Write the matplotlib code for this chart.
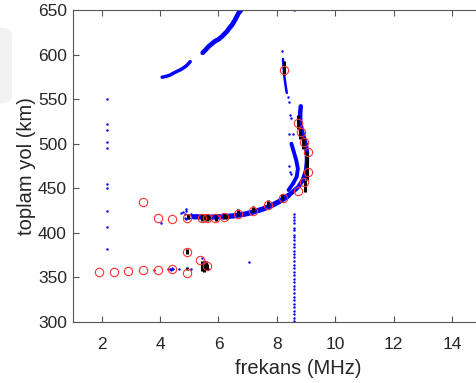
import numpy as np
import matplotlib.pyplot as plt
from matplotlib.patches import FancyBboxPatch

plt.rcParams['font.family'] = ['Liberation Sans', 'DejaVu Sans']

# raw echo traces (dense parts, drawn as thick blue strokes)
upper1_f = [4.07, 4.2, 4.34, 4.45, 4.57, 4.7, 4.8, 4.92, 5.03]
upper1_h = [574.6, 575.5, 577, 579, 581, 583, 585, 588, 592]
upper2_f = [5.46, 5.55, 5.66, 5.77, 5.88, 6.0, 6.11, 6.2, 6.29, 6.38, 6.46, 6.57, 6.68, 6.77, 6.85]
upper2_h = [602, 605, 609, 612, 615, 617, 620, 623, 626, 630, 633, 639, 646, 650, 652]
band_f = [5.15, 5.3, 5.5, 5.7, 5.9, 6.1, 6.3, 6.5, 6.7, 6.9, 7.1, 7.3, 7.5, 7.7, 7.9, 8.1, 8.25, 8.4]
band_h = [418, 418, 417.5, 417.5, 418, 418, 418.5, 419, 420, 421, 422.5, 424.5, 426.5, 429, 432, 435.5, 438.5, 442]
outer_f = [8.35, 8.55, 8.75, 8.9, 9.0, 9.03, 9.03, 9.0, 8.93, 8.85, 8.8, 8.8, 8.82]
outer_h = [441, 446, 452, 460, 470, 480, 490, 498, 506, 515, 525, 535, 542]
inner_f = [8.4, 8.55, 8.68, 8.72, 8.66, 8.57, 8.5]
inner_h = [448, 455, 463, 472, 482, 492, 500]
top_f = [8.34, 8.31, 8.28, 8.25, 8.23, 8.21]
top_h = [557, 563, 570, 577, 586, 595]

# isolated echoes
dots_f = [2.17, 2.17, 2.17, 2.17, 2.17, 2.17, 2.17, 2.17, 2.17, 2.17,
          4.02, 3.79, 4.28, 4.33, 4.38, 4.42, 4.45, 4.65, 5.05,
          4.7, 4.78, 4.85, 4.9, 4.95, 5.0, 5.05, 5.1, 4.85, 4.9, 4.88,
          5.45, 5.5, 5.55, 5.6, 5.65, 5.52,
          7.05, 8.6, 8.19, 8.38, 8.42, 8.46, 8.47, 8.43, 8.55, 8.43, 8.45, 8.5]
dots_h = [550, 522, 515, 502, 495, 455, 450, 425, 407, 382,
          411, 358, 359, 360, 358, 361, 359, 360, 359,
          422, 423, 421, 424, 419, 417, 421, 419, 417, 415, 427,
          372, 368, 366, 362, 360, 363,
          367, 650, 604.5, 552, 547, 532, 529, 510.6, 510.6, 475, 468, 466]

# vertical echo column near 8.58 MHz
col_f = 8.58
col_h = [421, 418, 414, 411, 406, 403, 398, 395, 392, 387, 384, 380, 376, 373,
         368, 364, 361, 356, 353, 348, 345, 340, 337, 333, 328, 325, 320, 317,
         312, 309, 304, 301]

# selected points (red circles)
sel_f = [1.91, 2.42, 2.91, 3.41, 3.92, 4.42, 4.92, 4.92, 5.37, 5.62, 3.41,
         3.94, 4.40, 4.92, 5.43, 5.62, 5.88, 6.2, 6.68, 7.2, 7.71, 8.2,
         8.74, 8.94, 9.05, 9.05, 8.94, 8.82, 8.71, 8.23]
sel_h = [356.5, 356.5, 357, 358, 358, 359, 355.3, 378, 369.6, 362.8, 434.3,
         417, 416, 417, 417, 417, 416.5, 417.5, 421, 425, 431, 439.5,
         447.3, 457.4, 468, 490.4, 502.3, 513.5, 523.6, 582.7]

# black vertical groups: frequency, low and high path
grp_f = [4.97, 5.43, 5.5, 5.62, 5.68, 5.9, 6.2, 6.28, 6.68, 7.2, 7.71, 8.17,
         8.71, 8.8, 8.9, 9.03, 8.96, 8.23,
         4.92, 4.92, 5.43, 5.5, 5.57, 5.62]
grp_lo = [416, 413, 414, 413, 414, 413, 415, 415, 419, 423, 429, 437,
          517, 505, 494, 459, 446, 577,
          376, 358, 357, 356, 358, 359]
grp_hi = [421, 421, 421, 420, 420, 420, 422, 421, 427, 430, 437, 444,
          532, 519, 508, 491, 459, 593,
          382, 362, 368, 366, 368, 365]

fig = plt.figure(figsize=(4.76, 3.83), dpi=100)
# faint grey tab on the left edge
fig.patches.append(FancyBboxPatch((-10 / 476, 280 / 383), 22 / 476, 75 / 383,
                                  boxstyle='round,pad=0,rounding_size=0.02',
                                  transform=fig.transFigure, fc='#f2f2f2', ec='none'))
ax = fig.add_axes([72.5 / 476, 61 / 383, (525 - 72.5) / 476, 312 / 383])

blue = '#0000ff'
for f, h, w in [(upper1_f, upper1_h, 2.5), (upper2_f, upper2_h, 3.4),
                (band_f, band_h, 3.8), (outer_f, outer_h, 3.2),
                (inner_f, inner_h, 2.8), (top_f, top_h, 1.8)]:
    ax.plot(f, h, '-', color=blue, lw=w, solid_capstyle='round')
ax.plot(dots_f, dots_h, '.', color=blue, ms=3.5, mew=0)
ax.plot([col_f] * len(col_h), col_h, '.', color=blue, ms=3.5, mew=0)

ax.vlines(grp_f, grp_lo, grp_hi, color='black', lw=2.2)
ax.plot(sel_f, sel_h, 'o', mfc='none', mec='#ff3030', ms=6, mew=0.8)

ax.set_xlim(1, 16.5)
ax.set_ylim(300, 650)
ax.set_xticks(np.arange(2, 16, 2))
ax.set_yticks(np.arange(300, 651, 50))
ax.tick_params(direction='in', length=4, width=0.8, colors='#555555',
               labelcolor='#262626', labelsize=12.5, top=True, right=True)
ax.tick_params(axis='x', pad=11)
ax.tick_params(axis='y', pad=4)
for s in ax.spines.values():
    s.set_color('#555555')
    s.set_linewidth(0.8)
ax.set_xlabel('frekans (MHz)', fontsize=14.5, color='#262626', labelpad=5)
ax.set_ylabel('toplam yol (km)', fontsize=14.5, color='#262626', labelpad=1)

fig.savefig('out.png', dpi=100)
